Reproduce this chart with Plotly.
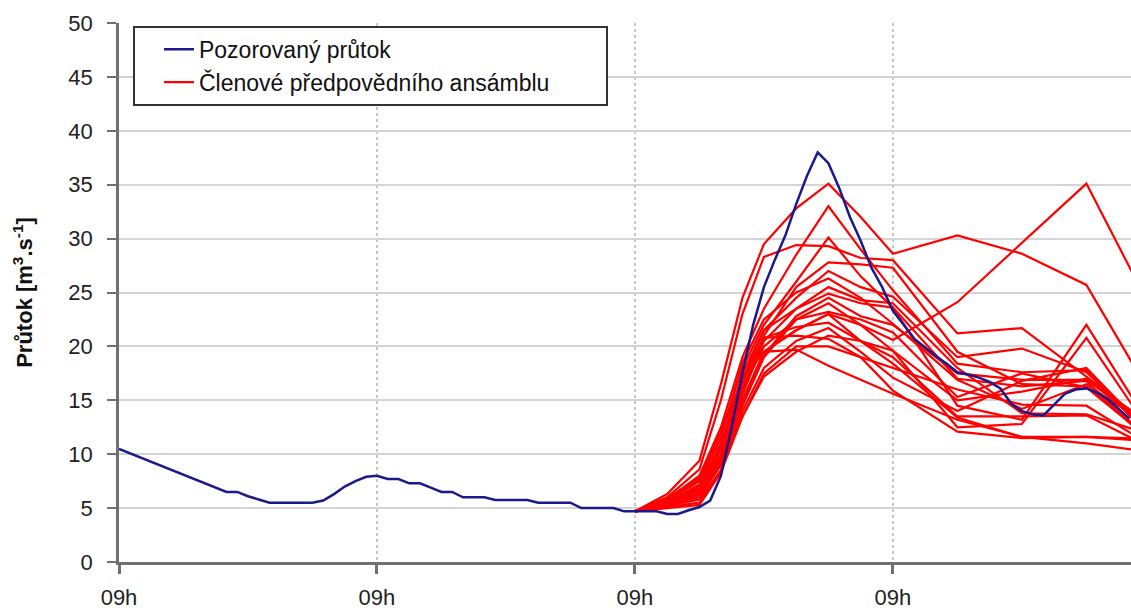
import plotly.graph_objects as go

# Observed discharge, hourly, starting at 09h of day 1
obs_hours = list(range(0, 95))
obs_flow = [
    10.5, 10.1, 9.7, 9.3, 8.9, 8.5, 8.1, 7.7, 7.3, 6.9,
    6.5, 6.5, 6.1, 5.8, 5.5, 5.5, 5.5, 5.5, 5.5, 5.7,
    6.3, 7.0, 7.5, 7.9, 8.0, 7.7, 7.7, 7.3, 7.3, 6.9,
    6.5, 6.5, 6.0, 6.0, 6.0, 5.75, 5.75, 5.75, 5.75, 5.5,
    5.5, 5.5, 5.5, 5.0, 5.0, 5.0, 5.0, 4.7, 4.7, 4.7,
    4.7, 4.45, 4.45, 4.8, 5.1, 5.7, 8.0, 12.5, 17.5, 22.0,
    25.5, 28.0, 30.3, 33.2, 35.8, 38.0, 37.0, 34.7, 32.0, 29.8,
    27.3, 25.5, 23.3, 22.0, 20.7, 19.9, 19.1, 18.4, 17.6, 17.4,
    17.1, 16.7, 16.1, 14.7, 14.0, 13.7, 13.6, 14.6, 15.6, 16.0,
    16.1, 15.7, 15.1, 14.2, 13.3,
]

# Ensemble forecast issued at 09h of day 3 (hour 48)
ens_hours = [48, 51, 54, 56, 58, 60, 63, 66, 69, 72, 78, 84, 90, 96]
ens_members = [
    [4.7, 6.3, 9.4, 16.5, 24.5, 29.5, 32.8, 35.1, 32.0, 28.6, 30.3, 28.6, 25.7, 15.5],
    [4.7, 6.0, 8.6, 15.0, 23.0, 28.3, 29.4, 29.3, 28.2, 28.0, 21.2, 21.7, 17.2, 12.6],
    [4.7, 5.8, 8.0, 12.5, 19.0, 23.5, 28.5, 33.0, 29.0, 25.2, 18.4, 17.6, 17.8, 11.5],
    [4.7, 5.5, 6.8, 10.0, 15.0, 19.5, 21.5, 23.0, 22.0, 20.6, 24.1, 29.6, 35.1, 23.5],
    [4.7, 5.9, 7.8, 12.0, 18.0, 22.0, 26.0, 30.1, 26.5, 23.6, 17.0, 16.3, 16.8, 11.0],
    [4.7, 5.6, 7.2, 11.0, 16.5, 21.0, 25.5, 27.8, 27.6, 27.3, 19.5, 16.5, 16.3, 11.5],
    [4.7, 5.4, 6.9, 10.5, 17.0, 21.5, 24.5, 27.0, 25.5, 24.6, 19.0, 19.8, 17.6, 12.0],
    [4.7, 5.7, 7.5, 11.5, 18.5, 22.5, 25.0, 26.3, 24.5, 22.1, 16.9, 14.2, 16.5, 12.5],
    [4.7, 5.3, 6.4, 9.5, 15.5, 20.5, 23.5, 25.5, 24.3, 24.0, 18.0, 13.8, 13.7, 11.8],
    [4.7, 5.5, 7.0, 10.8, 17.5, 21.5, 23.5, 24.9, 24.0, 23.6, 14.5, 13.2, 22.0, 12.5],
    [4.7, 5.2, 6.0, 9.0, 14.5, 19.0, 22.5, 24.0, 22.0, 19.6, 12.5, 12.8, 20.8, 12.0],
    [4.7, 5.4, 6.6, 9.8, 16.0, 20.0, 22.5, 23.2, 22.5, 21.3, 15.3, 17.5, 16.2, 11.3],
    [4.7, 5.3, 6.2, 9.0, 14.5, 19.5, 21.5, 23.0, 20.5, 18.4, 13.4, 11.6, 11.6, 11.2],
    [4.7, 5.6, 7.0, 11.0, 17.0, 20.8, 21.8, 22.2, 20.5, 19.6, 15.0, 15.8, 17.0, 12.2],
    [4.7, 5.2, 5.8, 8.5, 14.0, 18.0, 20.5, 21.7, 19.5, 17.1, 14.0, 16.8, 18.0, 11.8],
    [4.7, 5.5, 6.8, 10.5, 16.0, 20.8, 21.0, 20.7, 19.0, 15.9, 12.1, 11.5, 11.6, 11.4],
    [4.7, 5.8, 7.6, 12.0, 17.0, 19.5, 19.7, 18.2, 16.9, 15.6, 13.2, 11.6, 11.0, 10.2],
    [4.7, 5.1, 5.5, 8.5, 13.5, 17.5, 20.0, 20.0, 19.0, 18.0, 16.0, 14.6, 14.5, 10.8],
    [4.7, 5.3, 6.3, 9.2, 15.0, 19.2, 22.8, 24.5, 22.8, 22.0, 17.5, 16.9, 16.9, 12.8],
    [4.7, 5.0, 5.3, 8.3, 13.5, 17.2, 19.5, 21.0, 20.5, 19.0, 13.5, 13.5, 13.6, 10.6],
]

day_ticks = [0, 24, 48, 72]
day_labels = ["09h", "09h", "09h", "09h"]
y_ticks = list(range(0, 51, 5))

FONT = "Liberation Sans, Arial, sans-serif"
PAD = "\u00a0" * 8  # room on the right inside the legend box

fig = go.Figure()

for i, member in enumerate(ens_members):
    fig.add_trace(go.Scatter(
        x=ens_hours, y=member, mode="lines",
        line=dict(color="#ff0000", width=2.2),
        name="Členové předpovědního ansámblu" + PAD,
        legendgroup="ens", showlegend=(i == 0), legendrank=2,
        hoverinfo="skip",
    ))

fig.add_trace(go.Scatter(
    x=obs_hours, y=obs_flow, mode="lines",
    line=dict(color="#1a1a8c", width=2.5),
    name="Pozorovaný průtok",
    legendgroup="obs", legendrank=1,
))

fig.update_layout(
    width=1131, height=612,
    margin=dict(l=119, r=0, t=23, b=50),
    paper_bgcolor="white", plot_bgcolor="white",
    font=dict(family=FONT, size=22, color="#222222"),
    showlegend=True,
    legend=dict(
        x=0.0138, y=0.995, xanchor="left", yanchor="top",
        bgcolor="white", bordercolor="#333333", borderwidth=2,
        font=dict(family=FONT, size=23, color="#111111"),
        traceorder="grouped", tracegroupgap=0,
        itemwidth=30, indentation=24,
    ),
    xaxis=dict(
        range=[0, 94.15],
        tickmode="array", tickvals=day_ticks, ticktext=day_labels,
        showgrid=True, gridcolor="#c8c8c8", griddash="dot", gridwidth=1.5,
        showline=True, linecolor="#707070", linewidth=2.5,
        ticks="outside", ticklen=9, tickwidth=2.5, tickcolor="#707070",
        ticklabelstandoff=5,
        zeroline=False,
        tickfont=dict(family=FONT, size=22, color="#222222"),
    ),
    yaxis=dict(
        range=[0, 50],
        tickmode="array", tickvals=y_ticks,
        showgrid=True, gridcolor="#d4d4d4", gridwidth=2,
        showline=True, linecolor="#707070", linewidth=2.5,
        ticks="outside", ticklen=9, tickwidth=1.5, tickcolor="#707070",
        ticklabelstandoff=10,
        zeroline=False,
        tickfont=dict(family=FONT, size=22, color="#222222"),
        title=dict(
            text="<b>Průtok [m<sup>3</sup>.s<sup>-1</sup>]</b>",
            font=dict(family=FONT, size=22, color="#111111"),
            standoff=30,
        ),
    ),
)

fig.write_html("out.html")
